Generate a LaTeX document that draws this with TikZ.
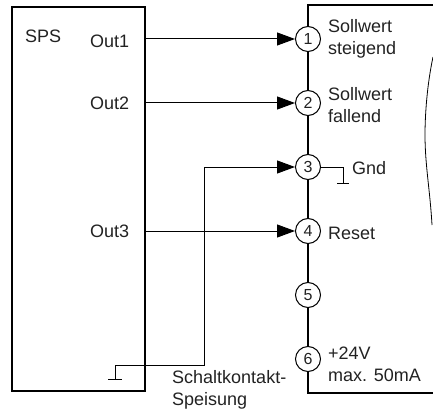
\documentclass[tikz,border=0pt]{standalone}
\usepackage{fontspec}
\setmainfont{Liberation Sans}
\usetikzlibrary{arrows.meta}
\definecolor{inkc}{HTML}{222222}
\tikzset{
  pin/.style={circle,draw=black,line width=1pt,fill=white,minimum size=25pt,inner sep=0pt,font=\fontsize{16}{16}\selectfont,text=inkc},
  lab/.style={anchor=west,inner sep=0pt,font=\fontsize{18}{22}\selectfont,text=inkc,align=left},
  wire/.style={line width=1pt,-{Triangle[length=18pt,width=13pt]}},
  thin wire/.style={line width=1pt},
  body/.style={line width=2.2pt,line cap=rect},
  sps/.style={line width=1.6pt}
}
\begin{document}
\begin{tikzpicture}[x=1pt,y=-1pt]
\useasboundingbox (0,0) rectangle (433,414);
\clip (0,0) rectangle (433,414);
% right device outline
\draw[body] (434,5) -- (308,5) -- (308,393) -- (434,393);
\draw[line width=0.8pt] (433,57) .. controls (427,85) and (425,115) .. (425,135) .. controls (425,165) and (430,190) .. (432,225);
% SPS
\node[draw,sps,minimum width=133pt,minimum height=384pt,inner sep=0pt,anchor=north west] (plc) at (11,6) {};
\node[lab] (spsl) at (25,36) {SPS};
\node[lab] (o1) at (90,41.5) {Out1};
\node[lab] (o2) at (90,103) {Out2};
\node[lab] (o3) at (90,231) {Out3};
% pins
\node[pin] (p1) at (308,39) {1};
\node[pin] (p2) at (308,103) {2};
\node[pin] (p3) at (308,167) {3};
\node[pin] (p4) at (308,231) {4};
\node[pin] (p5) at (308,295) {5};
\node[pin] (p6) at (308,359) {6};
% connectors
\coordinate (e1) at (144,39);
\coordinate (e2) at (144,103);
\coordinate (e4) at (144,231);
\draw[wire] (e1) -- (p1);
\draw[wire] (e2) -- (p2);
\draw[wire] (e4) -- (p4);
\coordinate (g1) at (115.5,379);
\coordinate (g1a) at (108,379);
\coordinate (g1b) at (122,379);
\draw[wire] (g1) -- (115.5,365) -- (204,365) -- (204,167) -- (p3);
\draw[thin wire] (g1a) -- (g1b);
\coordinate (g3) at (343,183);
\coordinate (g3a) at (337,183);
\coordinate (g3b) at (349,183);
\draw[thin wire] (p3) -- (343,167) -- (g3);
\draw[thin wire] (g3a) -- (g3b);
% labels
\node[lab] (t1) at (328,39) {Sollwert\\steigend};
\node[lab] (t2) at (328,105) {Sollwert\\fallend};
\node[lab] (t3) at (352,168) {Gnd};
\node[lab] (t4) at (328,233) {Reset};
\node[lab] (t6) at (328,364) {+24V\\max. 50mA};
\node[lab] (t7) at (172,390) {Schaltkontakt-\\Speisung};
\end{tikzpicture}
\end{document}
